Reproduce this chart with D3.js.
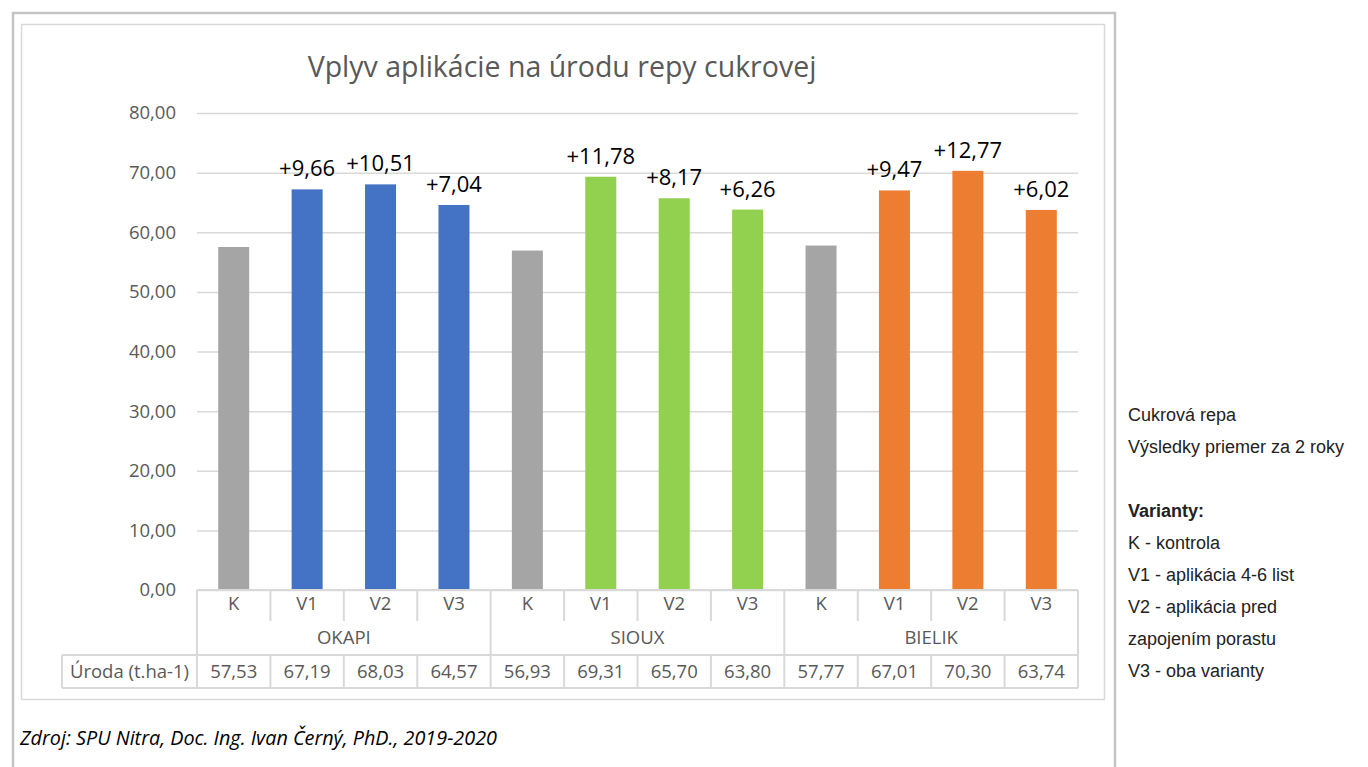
<!DOCTYPE html>
<html>
<head>
<meta charset="utf-8">
<script src="https://cdn.jsdelivr.net/npm/d3@7"></script>
<style>
  body { margin: 0; background: #fff; }
  svg text { font-family: "Open Sans", sans-serif; }
  svg text.note { font-family: "Liberation Sans", Arial, sans-serif; }
</style>
</head>
<body>
<svg id="chart" width="1368" height="767"></svg>
<script>
const groups = ["OKAPI", "SIOUX", "BIELIK"];
const variants = ["K", "V1", "V2", "V3"];
const yields = [57.53, 67.19, 68.03, 64.57, 56.93, 69.31, 65.70, 63.80, 57.77, 67.01, 70.30, 63.74];
const gains = ["", "+9,66", "+10,51", "+7,04", "", "+11,78", "+8,17", "+6,26", "", "+9,47", "+12,77", "+6,02"];
const yTicks = [0, 10, 20, 30, 40, 50, 60, 70, 80];
const groupColors = ["#4472C4", "#92D050", "#ED7D31"];
const notes = ["Cukrová repa", "Výsledky priemer za 2 roky", "", "Varianty:", "K - kontrola", "V1 - aplikácia 4-6 list", "V2 - aplikácia pred", "zapojením porastu", "V3 - oba varianty"];

const svg = d3.select("#chart");
const fmt = v => v.toFixed(2).replace(".", ",");

// frames
svg.append("rect").attr("x", 13).attr("y", 13).attr("width", 1102).attr("height", 780)
  .attr("fill", "none").attr("stroke", "#c4c4c4").attr("stroke-width", 2.5);
svg.append("rect").attr("x", 21.5).attr("y", 24.5).attr("width", 1083).attr("height", 675)
  .attr("fill", "none").attr("stroke", "#d9d9d9").attr("stroke-width", 1.5);

const plotL = 197, plotR = 1078, plotT = 113, plotB = 590;
const cats = d3.range(yields.length);
const x = d3.scaleBand().domain(cats).range([plotL, plotR]).paddingInner(0);
const y = d3.scaleLinear().domain([0, 80]).range([plotB, plotT]);
const barW = 31;

svg.append("text").attr("x", 562).attr("y", 77).attr("text-anchor", "middle")
  .attr("font-size", 28.5).attr("fill", "#595959").text("Vplyv aplikácie na úrodu repy cukrovej");

// grid + axis
const yAxis = d3.axisLeft(y).tickValues(yTicks).tickSize(-(plotR - plotL)).tickFormat(fmt).tickPadding(21);
const ga = svg.append("g").attr("transform", `translate(${plotL},0)`).call(yAxis);
ga.select(".domain").remove();
ga.selectAll(".tick line").attr("stroke", "#d9d9d9").attr("stroke-width", 1.5);
ga.selectAll(".tick text").attr("font-size", 18.5).attr("fill", "#595959").attr("font-family", "Open Sans");

// bars
svg.append("g").selectAll("rect").data(cats).join("rect")
  .attr("x", i => x(i) + (x.bandwidth() - barW) / 2)
  .attr("width", barW)
  .attr("y", i => y(yields[i]))
  .attr("height", i => plotB - y(yields[i]))
  .attr("fill", i => i % 4 === 0 ? "#A5A5A5" : groupColors[Math.floor(i / 4)]);

svg.append("g").selectAll("text").data(cats.filter(i => gains[i])).join("text")
  .attr("x", i => x(i) + x.bandwidth() / 2)
  .attr("y", i => y(yields[i]) - 13)
  .attr("text-anchor", "middle").attr("font-size", 22).attr("fill", "#000")
  .text(i => gains[i]);

// category table
const lineC = "#d9d9d9";
const tbl = svg.append("g").attr("stroke", lineC).attr("stroke-width", 2);
const rowCat = 621, rowGrp = 655, rowEnd = 688, labL = 62;
tbl.append("line").attr("x1", plotL).attr("x2", plotR).attr("y1", plotB).attr("y2", plotB);
tbl.append("line").attr("x1", labL).attr("x2", plotR).attr("y1", rowGrp).attr("y2", rowGrp);
tbl.append("line").attr("x1", labL).attr("x2", plotR).attr("y1", rowEnd).attr("y2", rowEnd);
tbl.append("line").attr("x1", labL).attr("x2", labL).attr("y1", rowGrp).attr("y2", rowEnd);
cats.concat([yields.length]).forEach(i => {
  const xx = i < yields.length ? x(i) : plotR;
  const full = i % 4 === 0;
  tbl.append("line").attr("x1", xx).attr("x2", xx).attr("y1", plotB).attr("y2", full ? rowEnd : rowCat);
  if (!full) tbl.append("line").attr("x1", xx).attr("x2", xx).attr("y1", rowGrp).attr("y2", rowEnd);
});

const tg = svg.append("g").attr("font-size", 18.5).attr("fill", "#595959").attr("text-anchor", "middle");
cats.forEach(i => {
  const cx = x(i) + x.bandwidth() / 2;
  tg.append("text").attr("x", cx).attr("y", 610).text(variants[i % 4]);
  tg.append("text").attr("x", cx).attr("y", 678).text(fmt(yields[i]));
});
groups.forEach((g, k) => {
  tg.append("text").attr("x", (x(k * 4) + x(k * 4 + 3) + x.bandwidth()) / 2).attr("y", 644).text(g);
});
tg.append("text").attr("x", (labL + plotL) / 2).attr("y", 678).text("Úroda (t.ha-1)");

svg.append("text").attr("x", 20).attr("y", 745).attr("font-size", 19.8).attr("font-style", "italic")
  .attr("fill", "#000").text("Zdroj: SPU Nitra, Doc. Ing. Ivan Černý, PhD., 2019-2020");

// notes on right
svg.append("g").selectAll("text").data(notes).join("text")
  .attr("class", "note")
  .attr("x", 1128).attr("y", (d, i) => 421 + i * 32)
  .attr("font-size", 18).attr("fill", "#222")
  .attr("font-weight", d => d === "Varianty:" ? "bold" : "normal")
  .text(d => d);
</script>
</body>
</html>
